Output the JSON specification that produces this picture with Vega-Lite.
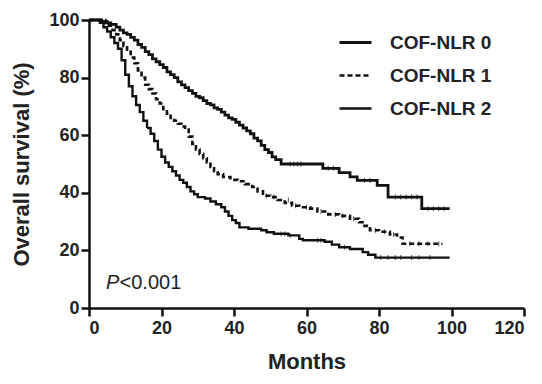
{
  "$schema": "https://vega.github.io/schema/vega-lite/v6.json",
  "width": 435,
  "height": 288,
  "autosize": "none",
  "padding": {"left": 89, "top": 20, "right": 18, "bottom": 76},
  "background": "white",
  "config": {
    "view": {"stroke": null},
    "font": "Liberation Sans",
    "axis": {
      "grid": false,
      "domainColor": "#111",
      "domainWidth": 2.5,
      "tickColor": "#111",
      "tickWidth": 2.5,
      "tickSize": 8,
      "labelFont": "Liberation Sans",
      "labelFontSize": 18,
      "labelFontWeight": "bold",
      "labelColor": "#222",
      "titleFont": "Liberation Sans",
      "titleFontSize": 22,
      "titleFontWeight": "bold",
      "titleColor": "#222"
    },
    "legend": {
      "orient": "none",
      "legendX": 249,
      "legendY": 5,
      "symbolType": "stroke",
      "symbolSize": 1024,
      "symbolStrokeColor": "#111",
      "labelFont": "Liberation Sans",
      "labelFontSize": 19,
      "labelFontWeight": "bold",
      "labelColor": "#222",
      "labelOffset": 17,
      "rowPadding": 5,
      "padding": 0
    }
  },
  "datasets": {
    "curves": [
      {"g": "COF-NLR 0", "m": 0, "s": 100}, {"g": "COF-NLR 0", "m": 3.5, "s": 99.5}, {"g": "COF-NLR 0", "m": 5, "s": 99}, {"g": "COF-NLR 0", "m": 6, "s": 98.5}, {"g": "COF-NLR 0", "m": 7.5, "s": 97.5}, {"g": "COF-NLR 0", "m": 8.5, "s": 96.5}, {"g": "COF-NLR 0", "m": 9.5, "s": 95.5}, {"g": "COF-NLR 0", "m": 10.5, "s": 95}, {"g": "COF-NLR 0", "m": 11.5, "s": 94}, {"g": "COF-NLR 0", "m": 12.5, "s": 93}, {"g": "COF-NLR 0", "m": 13.5, "s": 91.5}, {"g": "COF-NLR 0", "m": 14.5, "s": 90.5}, {"g": "COF-NLR 0", "m": 15.5, "s": 89}, {"g": "COF-NLR 0", "m": 16.5, "s": 88}, {"g": "COF-NLR 0", "m": 17.5, "s": 86.5}, {"g": "COF-NLR 0", "m": 18.5, "s": 85.5}, {"g": "COF-NLR 0", "m": 19.5, "s": 84.5}, {"g": "COF-NLR 0", "m": 20.5, "s": 83.5}, {"g": "COF-NLR 0", "m": 21.5, "s": 82}, {"g": "COF-NLR 0", "m": 22.5, "s": 81}, {"g": "COF-NLR 0", "m": 23.5, "s": 80}, {"g": "COF-NLR 0", "m": 24.5, "s": 78.5}, {"g": "COF-NLR 0", "m": 25.5, "s": 77.5}, {"g": "COF-NLR 0", "m": 26.5, "s": 76.5}, {"g": "COF-NLR 0", "m": 27.5, "s": 75.5}, {"g": "COF-NLR 0", "m": 28.5, "s": 74.5}, {"g": "COF-NLR 0", "m": 29.5, "s": 73.5}, {"g": "COF-NLR 0", "m": 30.5, "s": 73}, {"g": "COF-NLR 0", "m": 31.5, "s": 72}, {"g": "COF-NLR 0", "m": 32.5, "s": 71}, {"g": "COF-NLR 0", "m": 33.5, "s": 70.5}, {"g": "COF-NLR 0", "m": 34.5, "s": 69.5}, {"g": "COF-NLR 0", "m": 35.5, "s": 69}, {"g": "COF-NLR 0", "m": 36.5, "s": 68}, {"g": "COF-NLR 0", "m": 37.5, "s": 67}, {"g": "COF-NLR 0", "m": 38.5, "s": 66}, {"g": "COF-NLR 0", "m": 39.5, "s": 65.5}, {"g": "COF-NLR 0", "m": 40.5, "s": 64.5}, {"g": "COF-NLR 0", "m": 41.5, "s": 63.5}, {"g": "COF-NLR 0", "m": 42.5, "s": 62.5}, {"g": "COF-NLR 0", "m": 43.5, "s": 61.5}, {"g": "COF-NLR 0", "m": 44.5, "s": 60.5}, {"g": "COF-NLR 0", "m": 45.5, "s": 59}, {"g": "COF-NLR 0", "m": 46.5, "s": 58}, {"g": "COF-NLR 0", "m": 47.5, "s": 56.5}, {"g": "COF-NLR 0", "m": 48.5, "s": 55}, {"g": "COF-NLR 0", "m": 49.5, "s": 54}, {"g": "COF-NLR 0", "m": 50.5, "s": 52.5}, {"g": "COF-NLR 0", "m": 51.5, "s": 51.5}, {"g": "COF-NLR 0", "m": 53, "s": 50}, {"g": "COF-NLR 0", "m": 64.5, "s": 48.5}, {"g": "COF-NLR 0", "m": 69, "s": 47}, {"g": "COF-NLR 0", "m": 72, "s": 45.5}, {"g": "COF-NLR 0", "m": 74, "s": 44.3}, {"g": "COF-NLR 0", "m": 79.5, "s": 42.6}, {"g": "COF-NLR 0", "m": 82.5, "s": 38.5}, {"g": "COF-NLR 0", "m": 91.8, "s": 34.5}, {"g": "COF-NLR 0", "m": 99.5, "s": 34.5},
      {"g": "COF-NLR 1", "m": 0, "s": 100}, {"g": "COF-NLR 1", "m": 4.5, "s": 99}, {"g": "COF-NLR 1", "m": 5.5, "s": 98}, {"g": "COF-NLR 1", "m": 6.5, "s": 96.5}, {"g": "COF-NLR 1", "m": 7.5, "s": 95}, {"g": "COF-NLR 1", "m": 8.5, "s": 93}, {"g": "COF-NLR 1", "m": 9.5, "s": 91}, {"g": "COF-NLR 1", "m": 10.5, "s": 89}, {"g": "COF-NLR 1", "m": 11.5, "s": 87}, {"g": "COF-NLR 1", "m": 12.5, "s": 85}, {"g": "COF-NLR 1", "m": 13.5, "s": 82.5}, {"g": "COF-NLR 1", "m": 14.5, "s": 80}, {"g": "COF-NLR 1", "m": 15.5, "s": 77.5}, {"g": "COF-NLR 1", "m": 16.5, "s": 76}, {"g": "COF-NLR 1", "m": 17.5, "s": 74.5}, {"g": "COF-NLR 1", "m": 18.5, "s": 72.5}, {"g": "COF-NLR 1", "m": 19.5, "s": 71}, {"g": "COF-NLR 1", "m": 20.5, "s": 69}, {"g": "COF-NLR 1", "m": 21.5, "s": 67.5}, {"g": "COF-NLR 1", "m": 22.5, "s": 66}, {"g": "COF-NLR 1", "m": 23.5, "s": 65}, {"g": "COF-NLR 1", "m": 24.5, "s": 64}, {"g": "COF-NLR 1", "m": 25.5, "s": 63}, {"g": "COF-NLR 1", "m": 26.5, "s": 62}, {"g": "COF-NLR 1", "m": 27.5, "s": 59.5}, {"g": "COF-NLR 1", "m": 28.5, "s": 57}, {"g": "COF-NLR 1", "m": 29.5, "s": 55}, {"g": "COF-NLR 1", "m": 30.5, "s": 53.5}, {"g": "COF-NLR 1", "m": 31.5, "s": 52}, {"g": "COF-NLR 1", "m": 32.5, "s": 50.5}, {"g": "COF-NLR 1", "m": 33.5, "s": 49}, {"g": "COF-NLR 1", "m": 34.5, "s": 47.5}, {"g": "COF-NLR 1", "m": 35.5, "s": 46.5}, {"g": "COF-NLR 1", "m": 37, "s": 45.5}, {"g": "COF-NLR 1", "m": 39, "s": 44.5}, {"g": "COF-NLR 1", "m": 41, "s": 44}, {"g": "COF-NLR 1", "m": 43, "s": 43}, {"g": "COF-NLR 1", "m": 45, "s": 42}, {"g": "COF-NLR 1", "m": 46.5, "s": 40.5}, {"g": "COF-NLR 1", "m": 48, "s": 39}, {"g": "COF-NLR 1", "m": 50, "s": 38.5}, {"g": "COF-NLR 1", "m": 52, "s": 37.5}, {"g": "COF-NLR 1", "m": 54, "s": 36.5}, {"g": "COF-NLR 1", "m": 56, "s": 35.5}, {"g": "COF-NLR 1", "m": 58, "s": 35}, {"g": "COF-NLR 1", "m": 61, "s": 34.5}, {"g": "COF-NLR 1", "m": 63, "s": 33.5}, {"g": "COF-NLR 1", "m": 66, "s": 32.5}, {"g": "COF-NLR 1", "m": 69, "s": 32}, {"g": "COF-NLR 1", "m": 72, "s": 31}, {"g": "COF-NLR 1", "m": 74.5, "s": 29.8}, {"g": "COF-NLR 1", "m": 76, "s": 28.5}, {"g": "COF-NLR 1", "m": 77.5, "s": 27}, {"g": "COF-NLR 1", "m": 80, "s": 26.5}, {"g": "COF-NLR 1", "m": 83, "s": 25.5}, {"g": "COF-NLR 1", "m": 85, "s": 24.5}, {"g": "COF-NLR 1", "m": 86.5, "s": 22.3}, {"g": "COF-NLR 1", "m": 97.5, "s": 22.3},
      {"g": "COF-NLR 2", "m": 0, "s": 100}, {"g": "COF-NLR 2", "m": 3, "s": 99}, {"g": "COF-NLR 2", "m": 4, "s": 97.5}, {"g": "COF-NLR 2", "m": 5, "s": 96}, {"g": "COF-NLR 2", "m": 6, "s": 94}, {"g": "COF-NLR 2", "m": 7, "s": 92}, {"g": "COF-NLR 2", "m": 8, "s": 90}, {"g": "COF-NLR 2", "m": 9, "s": 86}, {"g": "COF-NLR 2", "m": 10, "s": 81}, {"g": "COF-NLR 2", "m": 11, "s": 77}, {"g": "COF-NLR 2", "m": 12, "s": 73.5}, {"g": "COF-NLR 2", "m": 13, "s": 70.5}, {"g": "COF-NLR 2", "m": 14, "s": 68}, {"g": "COF-NLR 2", "m": 15, "s": 65}, {"g": "COF-NLR 2", "m": 16, "s": 62.5}, {"g": "COF-NLR 2", "m": 17, "s": 60.5}, {"g": "COF-NLR 2", "m": 18, "s": 58}, {"g": "COF-NLR 2", "m": 19, "s": 55}, {"g": "COF-NLR 2", "m": 20, "s": 52.5}, {"g": "COF-NLR 2", "m": 21, "s": 50.5}, {"g": "COF-NLR 2", "m": 22, "s": 49}, {"g": "COF-NLR 2", "m": 23, "s": 47.5}, {"g": "COF-NLR 2", "m": 24, "s": 46}, {"g": "COF-NLR 2", "m": 25, "s": 44.5}, {"g": "COF-NLR 2", "m": 26, "s": 43.5}, {"g": "COF-NLR 2", "m": 27, "s": 42}, {"g": "COF-NLR 2", "m": 28, "s": 40.5}, {"g": "COF-NLR 2", "m": 29, "s": 39.5}, {"g": "COF-NLR 2", "m": 30, "s": 38.5}, {"g": "COF-NLR 2", "m": 32, "s": 38}, {"g": "COF-NLR 2", "m": 33.5, "s": 37}, {"g": "COF-NLR 2", "m": 35, "s": 36}, {"g": "COF-NLR 2", "m": 36.5, "s": 35}, {"g": "COF-NLR 2", "m": 37.5, "s": 33.5}, {"g": "COF-NLR 2", "m": 38.5, "s": 32}, {"g": "COF-NLR 2", "m": 39.5, "s": 30.5}, {"g": "COF-NLR 2", "m": 40.5, "s": 29.5}, {"g": "COF-NLR 2", "m": 41.5, "s": 28}, {"g": "COF-NLR 2", "m": 44, "s": 27.5}, {"g": "COF-NLR 2", "m": 47.5, "s": 27}, {"g": "COF-NLR 2", "m": 49, "s": 26.3}, {"g": "COF-NLR 2", "m": 51, "s": 25.8}, {"g": "COF-NLR 2", "m": 55, "s": 25.2}, {"g": "COF-NLR 2", "m": 58, "s": 24}, {"g": "COF-NLR 2", "m": 59, "s": 23.5}, {"g": "COF-NLR 2", "m": 65, "s": 23}, {"g": "COF-NLR 2", "m": 67, "s": 22}, {"g": "COF-NLR 2", "m": 69, "s": 21.1}, {"g": "COF-NLR 2", "m": 72, "s": 20.5}, {"g": "COF-NLR 2", "m": 75.5, "s": 19.4}, {"g": "COF-NLR 2", "m": 77, "s": 18.5}, {"g": "COF-NLR 2", "m": 79, "s": 17.5}, {"g": "COF-NLR 2", "m": 99.5, "s": 17.5}
    ],
    "censors": [
      {"m": 55.5, "s": 50}, {"m": 56.5, "s": 50}, {"m": 57.5, "s": 50}, {"m": 58.5, "s": 50}, {"m": 66, "s": 48.5}, {"m": 67.5, "s": 48.5}, {"m": 76, "s": 44.3}, {"m": 77.5, "s": 44.3}, {"m": 84.5, "s": 38.5}, {"m": 86, "s": 38.5}, {"m": 87.5, "s": 38.5}, {"m": 89, "s": 38.5}, {"m": 90.5, "s": 38.5}, {"m": 93.5, "s": 34.5}, {"m": 95, "s": 34.5}, {"m": 96.5, "s": 34.5}, {"m": 98, "s": 34.5},
      {"m": 49, "s": 39}, {"m": 51, "s": 38.5}, {"m": 55, "s": 37.5}, {"m": 57, "s": 35.5}, {"m": 60, "s": 35}, {"m": 64, "s": 33.5}, {"m": 68, "s": 32.5}, {"m": 70, "s": 32}, {"m": 73, "s": 31}, {"m": 79, "s": 27}, {"m": 81.5, "s": 26.5}, {"m": 84, "s": 25.5}, {"m": 88.5, "s": 22.3}, {"m": 91, "s": 22.3}, {"m": 93.5, "s": 22.3}, {"m": 96.5, "s": 22.3},
      {"m": 53, "s": 25.8}, {"m": 54, "s": 25.8}, {"m": 55.5, "s": 25.2}, {"m": 63, "s": 23.5}, {"m": 64, "s": 23.5}, {"m": 70.5, "s": 21.1}, {"m": 80.5, "s": 17.5}, {"m": 82.5, "s": 17.5}, {"m": 84.5, "s": 17.5}, {"m": 86, "s": 17.5}, {"m": 89, "s": 17.5}, {"m": 91, "s": 17.5}, {"m": 94, "s": 17.5}
    ],
    "ptext": [{"part": "P", "m": 4.7, "s": 6.7}]
  },
  "layer": [
    {
      "data": {"name": "curves"},
      "mark": {"type": "line", "interpolate": "step-after", "color": "#111", "strokeCap": "butt"},
      "encoding": {
        "x": {
          "field": "m", "type": "quantitative",
          "scale": {"domain": [0, 120], "nice": false, "zero": false},
          "axis": {"values": [0, 20, 40, 60, 80, 100, 120], "title": "Months", "titlePadding": 14, "labelPadding": 3}
        },
        "y": {
          "field": "s", "type": "quantitative",
          "scale": {"domain": [0, 100], "nice": false},
          "axis": {"values": [0, 20, 40, 60, 80, 100], "title": "Overall survival (%)", "titlePadding": 15, "labelPadding": 2}
        },
        "detail": {"field": "g"},
        "strokeDash": {
          "field": "g", "type": "nominal",
          "scale": {"domain": ["COF-NLR 0", "COF-NLR 1", "COF-NLR 2"], "range": [[1, 0], [5, 3], [1, 0]]},
          "legend": {"title": null}
        },
        "strokeWidth": {
          "field": "g", "type": "ordinal",
          "scale": {"domain": ["COF-NLR 0", "COF-NLR 1", "COF-NLR 2"], "range": [2.8, 2.4, 1.0]},
          "legend": {"title": null}
        }
      }
    },
    {
      "data": {"name": "censors"},
      "mark": {"type": "tick", "orient": "vertical", "color": "#111", "size": 5, "thickness": 1},
      "encoding": {
        "x": {"field": "m", "type": "quantitative"},
        "y": {"field": "s", "type": "quantitative"}
      }
    },
    {
      "data": {"name": "ptext"},
      "mark": {"type": "text", "fontStyle": "italic", "fontSize": 20, "align": "left", "baseline": "alphabetic", "color": "#222", "font": "Liberation Sans"},
      "encoding": {
        "x": {"field": "m", "type": "quantitative"},
        "y": {"field": "s", "type": "quantitative"},
        "text": {"field": "part"}
      }
    },
    {
      "data": {"name": "ptext"},
      "mark": {"type": "text", "text": "<0.001", "dx": 13.5, "fontSize": 20, "align": "left", "baseline": "alphabetic", "color": "#222", "font": "Liberation Sans"},
      "encoding": {
        "x": {"field": "m", "type": "quantitative"},
        "y": {"field": "s", "type": "quantitative"}
      }
    }
  ]
}
